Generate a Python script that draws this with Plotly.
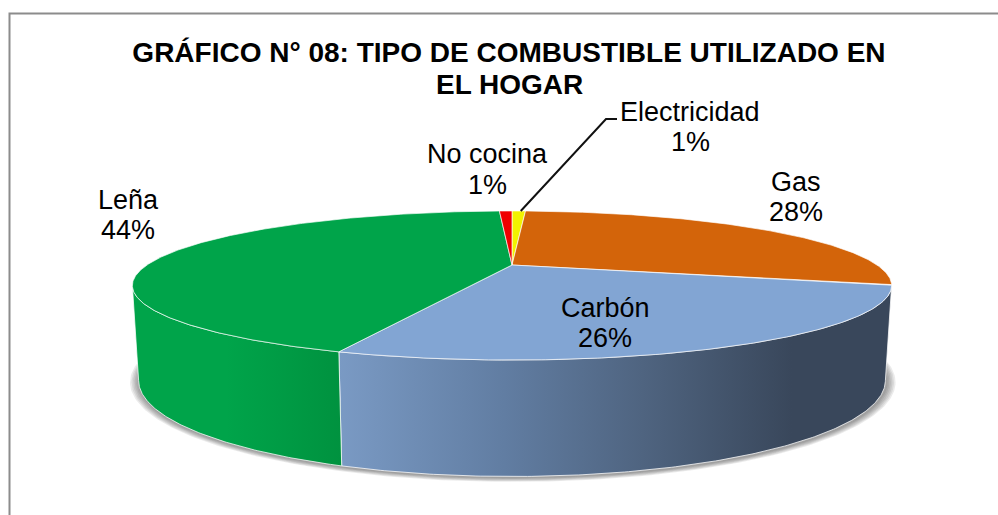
import numpy as np
import plotly.graph_objects as go

# ---- data (clockwise from 12 o'clock) ----
categories = ["Electricidad", "Gas", "Carbón", "Leña", "No cocina"]
values = [0.75, 28.49, 26.49, 43.57, 0.7]
top_colors = ["#F2F200", "#D3640A", "#82A5D3", "#00A44A", "#F00000"]

# ---- projection of the pie's disc onto the picture ----
CX, K = 512.0, 0.275
TOP = dict(a=365.0, b=68.9, y0=265.0)
BOT = dict(a=359.0, b=88.8, y0=354.0)
SIL_R, SIL_L = 105.96, 254.04  # silhouette angles of the cylinder


def proj(theta_deg, disc, grow_x=0.0, grow_y=0.0, dx=0.0, dy=0.0):
    t = np.radians(theta_deg)
    u, v = np.sin(t), np.cos(t)
    d = 1 + K * v
    return (CX + dx + (disc["a"] + grow_x) * u / d,
            disc["y0"] + dy - (disc["b"] + grow_y) * v / d)


def arc(a, b, disc, **kw):
    n = max(2, int(abs(b - a) * 2) + 2)
    return proj(np.linspace(a, b, n), disc, **kw)


edges = 3.6 * np.concatenate([[0], np.cumsum(values)])
fig = go.Figure()

# soft shadow below the pie
full = np.linspace(0, 360, 361)
for g in [9, 7.5, 6, 4.5, 3, 1.5]:
    sx, sy = proj(full, BOT, grow_x=g, grow_y=g * 0.35, dx=0.8, dy=1.0)
    fig.add_trace(go.Scatter(x=sx, y=sy, mode="lines", fill="toself", line=dict(width=0),
                             fillcolor="rgba(60,60,60,0.10)", hoverinfo="skip", showlegend=False))

# side walls, with a horizontal shading
side_scales = {
    "Carbón": [[0, "#7A9AC4"], [0.30, "#617DA2"], [0.55, "#4F6480"], [0.82, "#39475B"], [1, "#39475B"]],
    "Leña": [[0, "#00A44A"], [0.45, "#00A44A"], [1, "#00923F"]],
}
for i, name in enumerate(categories):
    if name not in side_scales:
        continue
    a, b = max(edges[i], SIL_R), min(edges[i + 1], SIL_L)
    x1, y1 = arc(a, b, TOP)
    x2, y2 = arc(b, a, BOT)
    x = np.concatenate([x1, x2, x1[:1]])
    y = np.concatenate([y1, y2, y1[:1]])
    fig.add_trace(go.Scatter(
        x=x, y=y, mode="lines", fill="toself", line=dict(width=1, color="rgba(255,255,255,0.75)"),
        fillgradient=dict(type="horizontal", colorscale=side_scales[name],
                          start=float(x.min()), stop=float(x.max())),
        hoverinfo="skip", showlegend=False))

# top face
for i, name in enumerate(categories):
    ax, ay = arc(edges[i], edges[i + 1], TOP)
    x = np.concatenate([[CX], ax, [CX]])
    y = np.concatenate([[TOP["y0"]], ay, [TOP["y0"]]])
    fig.add_trace(go.Scatter(
        x=x, y=y, mode="lines", fill="toself", fillcolor=top_colors[i],
        line=dict(width=1, color="rgba(255,255,255,0.65)"),
        name=name, text=f"{name}: {round(values[i])}%", hoverinfo="text", showlegend=False))

# data labels: name line and percentage line
label_pos = {
    "Electricidad": (690, 112, 142),
    "Gas": (796, 182, 212),
    "Carbón": (605, 308, 338),
    "Leña": (128, 200, 230),
    "No cocina": (487, 154, 185),
}
label_font = dict(family="Liberation Sans", size=27, color="#000000")
for name, val in zip(categories, values):
    lx, ly1, ly2 = label_pos[name]
    for ly, s in ((ly1, name), (ly2, f"{round(val)}%")):
        fig.add_annotation(x=lx, y=ly, xref="x", yref="y", text=s, showarrow=False,
                           xanchor="center", yanchor="middle", font=label_font)

# second title line
fig.add_annotation(x=509, y=84, xref="x", yref="y", text="<b>EL HOGAR</b>", showarrow=False,
                   xanchor="center", yanchor="middle",
                   font=dict(family="Liberation Sans", size=28, color="#000000"))

# leader line of the Electricidad label
mx, my = proj(0.5 * (edges[0] + edges[1]), TOP)
fig.add_trace(go.Scatter(x=[float(mx) + 2, 606, 617], y=[float(my), 119, 119], mode="lines",
                         line=dict(color="#111111", width=2), hoverinfo="skip", showlegend=False))

fig.update_layout(
    width=998, height=515, margin=dict(l=0, r=0, t=0, b=0),
    paper_bgcolor="white", plot_bgcolor="white", showlegend=False,
    title=dict(text="<b>GRÁFICO N° 08: TIPO DE COMBUSTIBLE UTILIZADO EN</b>",
               x=0.51, xref="paper", xanchor="center", y=1 - 52 / 515, yref="container", yanchor="middle",
               font=dict(family="Liberation Sans", size=28, color="#000000")),
    xaxis=dict(range=[0, 998], visible=False, fixedrange=True),
    yaxis=dict(range=[515, 0], visible=False, fixedrange=True),
    shapes=[dict(type="path", xref="x", yref="y", path="M 9.5 515 L 9.5 13.5 L 998 13.5",
                 line=dict(color="#8C8C8C", width=2))],
)

fig.write_html("out.html", config=dict(displayModeBar=False),
               post_script="document.body.style.margin='0';document.documentElement.style.overflow='hidden';")
